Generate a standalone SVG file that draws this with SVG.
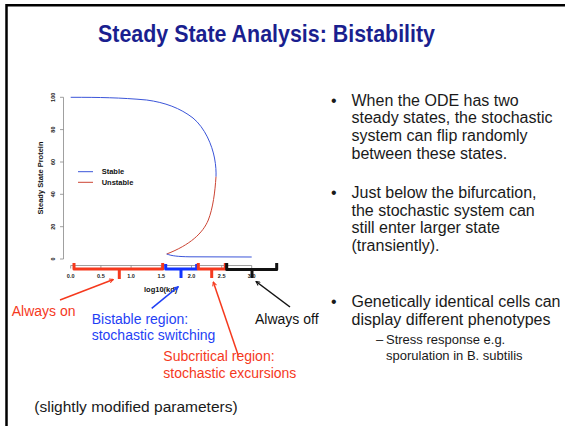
<svg xmlns="http://www.w3.org/2000/svg" width="565" height="426" viewBox="0 0 565 426">
<defs>
<style>
text{font-family:"Liberation Sans",Arial,Helvetica,sans-serif;}
.title{font-size:24px;font-weight:bold;fill:#1a1f8f;}
.body{font-size:16px;fill:#1a1a1a;}
.sub{font-size:13px;fill:#1a1a1a;}
.lab{font-size:14px;}
.red{fill:#f5391d;}
.blue{fill:#1f3ff5;}
.blk{fill:#111;}
.tick{font-size:5.5px;font-weight:bold;fill:#222;}
.axt{font-size:7.5px;font-weight:bold;fill:#111;}
.axis{stroke:#888;stroke-width:0.8;fill:none;}
.brace{fill:none;stroke-width:3;stroke-linejoin:round;}
.arr{fill:none;stroke-width:1.5;}
</style>
<marker id="hr" viewBox="0 0 10 10" refX="9" refY="5" markerWidth="5" markerHeight="5" orient="auto" markerUnits="userSpaceOnUse"><path d="M1,1 L9,5 L1,9" fill="none" stroke="#f5391d" stroke-width="2"/></marker>
<marker id="hb" viewBox="0 0 10 10" refX="9" refY="5" markerWidth="5" markerHeight="5" orient="auto" markerUnits="userSpaceOnUse"><path d="M1,1 L9,5 L1,9" fill="none" stroke="#1f3ff5" stroke-width="2"/></marker>
<marker id="hk" viewBox="0 0 10 10" refX="9" refY="5" markerWidth="5" markerHeight="5" orient="auto" markerUnits="userSpaceOnUse"><path d="M1,1 L9,5 L1,9" fill="none" stroke="#111" stroke-width="2"/></marker>
</defs>
<rect width="565" height="426" fill="#fff"/>
<path d="M6.5,426 V5.3 H565" fill="none" stroke="#000" stroke-width="2.5"/>

<g id="title"><text class="title" x="98" y="41.7" textLength="337" lengthAdjust="spacingAndGlyphs">Steady State Analysis: Bistability</text></g>

<g id="plot">
<path class="axis" d="M63.5,97.3 V259 M60,97.3 H63.5 M60,129.6 H63.5 M60,162 H63.5 M60,194.3 H63.5 M60,226.7 H63.5 M60,259 H63.5"/>
<g class="tick" text-anchor="middle">
<text transform="translate(55,97.3) rotate(-90)">100</text>
<text transform="translate(55,129.6) rotate(-90)">80</text>
<text transform="translate(55,162) rotate(-90)">60</text>
<text transform="translate(55,194.3) rotate(-90)">40</text>
<text transform="translate(55,226.7) rotate(-90)">20</text>
<text transform="translate(55,259) rotate(-90)">0</text>
</g>
<text class="axt" text-anchor="middle" transform="translate(43,178) rotate(-90)">Steady State Protein</text>
<path class="axis" d="M70.7,265.5 H251.7 M70.7,265.5 V268.5 M100.9,265.5 V268.5 M131.1,265.5 V268.5 M161.3,265.5 V268.5 M191.5,265.5 V268.5 M221.7,265.5 V268.5 M251.7,265.5 V268.5"/>
<g class="tick" text-anchor="middle">
<text x="70.7" y="277.5">0.0</text>
<text x="100.9" y="277.5">0.5</text>
<text x="131.1" y="277.5">1.0</text>
<text x="161.3" y="277.5">1.5</text>
<text x="191.5" y="277.5">2.0</text>
<text x="221.7" y="277.5">2.5</text>
<text x="251.7" y="277.5">3.0</text>
</g>
<text class="axt" x="144" y="292">log10(kd)</text>
<path d="M70.7,97.3 C100,97.3 120,97.6 146.7,100 C165,102.5 180,108 193,118 C205,128 212,145 214.5,158 C216,166 216.2,172 216,176.7" fill="none" stroke="#3b55d9" stroke-width="1"/>
<path d="M216,176.7 C215,192 213,208 208.3,220 C203,233 190,245 166.7,254" fill="none" stroke="#cc4433" stroke-width="1"/>
<path d="M166.7,254 C172,256 178,256.6 190,256.8 L251.7,257" fill="none" stroke="#3b55d9" stroke-width="1"/>
<path d="M78,171.7 H93" stroke="#3b55d9" stroke-width="1"/>
<path d="M78,182.3 H93" stroke="#cc4433" stroke-width="1"/>
<text class="axt" x="101.7" y="174.4">Stable</text>
<text class="axt" x="101.7" y="185">Unstable</text>
</g>

<g id="brace-on"><path class="brace" stroke="#f5391d" d="M74,263 V269 H162.7 V263 M119.3,269 V279"/></g>
<g id="brace-bistable"><path class="brace" stroke="#1133ff" d="M165.7,264 V269 H196.7 V264 M181,269 V278"/></g>
<g id="brace-subcritical"><path class="brace" stroke="#f5391d" d="M198.3,263 V269 H225.3 V263 M211.7,269 V278"/></g>
<g id="brace-off"><path class="brace" stroke="#111" d="M226.7,263 V269.5 H276.7 V263 M252,269.5 V278"/></g>

<g id="connectors">
<path class="arr" stroke="#f5391d" marker-end="url(#hr)" d="M60,300 L113.3,279.5"/>
<path class="arr" stroke="#1f3ff5" marker-end="url(#hb)" d="M151.7,308.3 L178.3,286.7"/>
<path class="arr" stroke="#f5391d" marker-end="url(#hr)" d="M238.3,355.5 L213.3,282"/>
<path class="arr" stroke="#111" marker-end="url(#hk)" d="M290,307 L256,281.5"/>
</g>

<g id="label-on"><text class="lab red" x="11.7" y="316">Always on</text></g>
<g id="label-bistable"><text class="lab blue" x="91.7" y="323.5">Bistable region:</text><text class="lab blue" x="91.7" y="340">stochastic switching</text></g>
<g id="label-off"><text class="lab blk" x="255" y="323.5">Always off</text></g>
<g id="label-subcritical"><text class="lab red" x="163.3" y="361">Subcritical region:</text><text class="lab red" x="163.3" y="377.5">stochastic excursions</text></g>

<g id="bullets">
<text class="body" x="331" y="105.7">•</text>
<text class="body" x="351.5" y="105.7">When the ODE has two</text>
<text class="body" x="351.5" y="123.3">steady states, the stochastic</text>
<text class="body" x="351.5" y="140.9">system can flip randomly</text>
<text class="body" x="351.5" y="158.5">between these states.</text>
<text class="body" x="331" y="198">•</text>
<text class="body" x="351.5" y="198">Just below the bifurcation,</text>
<text class="body" x="351.5" y="215.6">the stochastic system can</text>
<text class="body" x="351.5" y="233.2">still enter larger state</text>
<text class="body" x="351.5" y="250.8">(transiently).</text>
<text class="body" x="331" y="307">•</text>
<text class="body" x="351.5" y="307">Genetically identical cells can</text>
<text class="body" x="351.5" y="324.6">display different phenotypes</text>
<text class="sub" x="376" y="344">–</text>
<text class="sub" x="386" y="344">Stress response e.g.</text>
<text class="sub" x="386" y="359.5">sporulation in B. subtilis</text>
</g>

<g id="footnote"><text class="body" x="34.3" y="411.5" style="font-size:15.5px">(slightly modified parameters)</text></g>
</svg>
